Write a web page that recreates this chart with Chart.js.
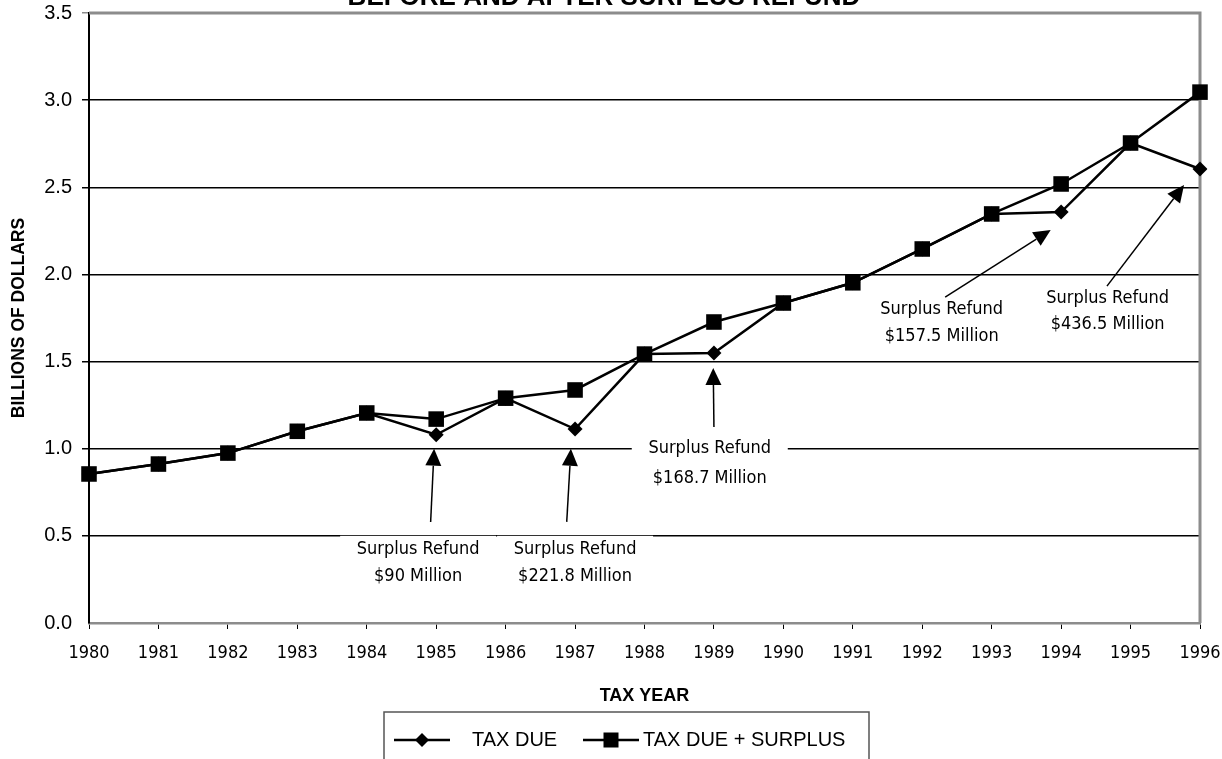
<!DOCTYPE html>
<html lang="en">
<head>
  <meta charset="UTF-8" />
  <title>Tax Due Before and After Surplus Refund</title>
  <script src="https://cdn.jsdelivr.net/npm/chart.js"></script>
  <style>
    html, body { margin: 0; padding: 0; background: #fff; }
    #wrap { position: relative; width: 1222px; height: 759px; overflow: hidden; }
  </style>
</head>
<body>
  <div id="wrap"><canvas id="taxChart" width="1222" height="759"></canvas></div>

  <script>
    // data (billions of dollars)
    const years = ['1980', '1981', '1982', '1983', '1984', '1985', '1986', '1987', '1988',
                   '1989', '1990', '1991', '1992', '1993', '1994', '1995', '1996'];
    const taxDue = [0.855, 0.912, 0.975, 1.10, 1.205, 1.08, 1.29, 1.113, 1.543,
                    1.549, 1.836, 1.952, 2.146, 2.347, 2.358, 2.754, 2.605];
    const taxDuePlusSurplus = [0.855, 0.912, 0.975, 1.10, 1.205, 1.17, 1.29, 1.337, 1.543,
                               1.727, 1.836, 1.952, 2.146, 2.347, 2.519, 2.754, 3.046];
    const yTicks = [0, 0.5, 1.0, 1.5, 2.0, 2.5, 3.0, 3.5];
    const refundAmounts = ['$90 Million', '$221.8 Million', '$168.7 Million', '$157.5 Million', '$436.5 Million'];

    // where each refund note sits, in axis units (x = year index, y = billions)
    const noteLayout = [
      { tx: 4.74, ty: [0.42, 0.265], tail: [4.92, 0.58], tip: [4.97, 1.0] },
      { tx: 7.0, ty: [0.42, 0.265], tail: [6.88, 0.58], tip: [6.94, 1.0] },
      { tx: 8.94, ty: [1.004, 0.832], tail: [9.0, 1.124], tip: [8.99, 1.463] },
      { tx: 12.28, ty: [1.80, 1.647], tail: [12.33, 1.87], tip: [13.85, 2.255] },
      { tx: 14.67, ty: [1.865, 1.715], tail: [14.66, 1.933], tip: [15.77, 2.513] }
    ];

    const narrow = '"Liberation Sans Narrow", "DejaVu Sans Condensed", Arial, sans-serif';
    const arial = '"Liberation Sans", Arial, sans-serif';

    function arrow(ctx, x1, y1, x2, y2) {
      const ang = Math.atan2(y2 - y1, x2 - x1);
      const headLen = 17, headW = 8;
      const bx = x2 - headLen * Math.cos(ang), by = y2 - headLen * Math.sin(ang);
      ctx.beginPath();
      ctx.moveTo(x1, y1);
      ctx.lineTo(bx, by);
      ctx.stroke();
      ctx.beginPath();
      ctx.moveTo(x2, y2);
      ctx.lineTo(bx + headW * Math.sin(ang), by - headW * Math.cos(ang));
      ctx.lineTo(bx - headW * Math.sin(ang), by + headW * Math.cos(ang));
      ctx.closePath();
      ctx.fill();
    }

    // notes, arrows and frame drawn under the lines
    const notesPlugin = {
      id: 'notes',
      beforeDatasetsDraw(chart) {
        const { ctx, scales: { x, y }, chartArea } = chart;
        ctx.save();
        ctx.font = '18px ' + narrow;
        ctx.textAlign = 'center';
        ctx.textBaseline = 'middle';
        noteLayout.forEach((n, i) => {
          const cx = x.getPixelForValue(n.tx);
          const y1 = y.getPixelForValue(n.ty[0]);
          const y2 = y.getPixelForValue(n.ty[1]);
          ctx.fillStyle = '#fff';
          ctx.fillRect(cx - 78, y1 - 14, 156, y2 - y1 + 28);
          ctx.fillStyle = '#000';
          ctx.fillText('Surplus Refund', cx, y1);
          ctx.fillText(refundAmounts[i], cx, y2);
          ctx.strokeStyle = '#000';
          ctx.lineWidth = 1.5;
          arrow(ctx, x.getPixelForValue(n.tail[0]), y.getPixelForValue(n.tail[1]),
                x.getPixelForValue(n.tip[0]), y.getPixelForValue(n.tip[1]));
        });
        // gray top and right frame
        ctx.strokeStyle = '#8c8c8c';
        ctx.lineWidth = 3;
        ctx.beginPath();
        ctx.moveTo(chartArea.left, chartArea.top);
        ctx.lineTo(chartArea.right, chartArea.top);
        ctx.lineTo(chartArea.right, chartArea.bottom);
        ctx.stroke();
        ctx.restore();
      },
      afterDraw(chart) {
        const ctx = chart.ctx;
        ctx.save();
        // title, mostly cut off at the top of the picture
        ctx.font = 'bold 26px ' + arial;
        ctx.fillStyle = '#000';
        ctx.textAlign = 'center';
        ctx.textBaseline = 'alphabetic';
        ctx.fillText('BEFORE AND AFTER SURPLUS REFUND', 604, 5);

        // boxed legend
        const bx = 384, by = 712, bw = 485, bh = 60;
        ctx.strokeStyle = '#555';
        ctx.lineWidth = 1.5;
        ctx.strokeRect(bx, by, bw, bh);
        ctx.font = '20px ' + arial;
        ctx.textAlign = 'left';
        ctx.textBaseline = 'middle';
        const ly = 740;
        const items = chart.data.datasets;
        const starts = [394, 583];
        const textX = [472, 643];
        items.forEach((ds, i) => {
          const x0 = starts[i];
          ctx.strokeStyle = '#000';
          ctx.lineWidth = 2.5;
          ctx.beginPath();
          ctx.moveTo(x0, ly);
          ctx.lineTo(x0 + 56, ly);
          ctx.stroke();
          ctx.fillStyle = '#000';
          const cx = x0 + 28;
          if (ds.pointStyle === 'rectRot') {
            ctx.beginPath();
            ctx.moveTo(cx, ly - 7);
            ctx.lineTo(cx + 7, ly);
            ctx.lineTo(cx, ly + 7);
            ctx.lineTo(cx - 7, ly);
            ctx.closePath();
            ctx.fill();
          } else {
            ctx.fillRect(cx - 7.5, ly - 7.5, 15, 15);
          }
          ctx.fillText(ds.label, textX[i], ly);
        });
        ctx.restore();
      }
    };

    new Chart(document.getElementById('taxChart'), {
      type: 'line',
      data: {
        labels: years,
        datasets: [{
          label: 'TAX DUE',
          data: taxDue,
          borderColor: '#000',
          backgroundColor: '#000',
          borderWidth: 2.5,
          pointStyle: 'rectRot',
          pointRadius: 7.5,
          pointBorderWidth: 0,
          tension: 0,
          order: 2
        }, {
          label: 'TAX DUE + SURPLUS',
          data: taxDuePlusSurplus,
          borderColor: '#000',
          backgroundColor: '#000',
          borderWidth: 2.5,
          pointStyle: 'rect',
          pointRadius: 11,
          pointBorderWidth: 0,
          tension: 0,
          order: 1
        }]
      },
      options: {
        responsive: false,
        animation: false,
        layout: { padding: { left: 0, top: 13, right: 22, bottom: 0 } },
        plugins: {
          legend: { display: false },
          title: { display: false },
          tooltip: { enabled: false }
        },
        scales: {
          x: {
            type: 'category',
            offset: false,
            afterFit(scale) {
              scale.height = 136;
              scale.paddingLeft = 0;
              scale.paddingRight = 0;
            },
            border: { display: true, color: '#8c8c8c', width: 2.5 },
            grid: { display: true, drawOnChartArea: false, drawTicks: true, tickLength: 6, color: '#000', lineWidth: 1 },
            ticks: {
              color: '#000',
              padding: 14,
              maxRotation: 0,
              autoSkip: false,
              font: { family: narrow, size: 18 }
            },
            title: {
              display: true,
              text: 'TAX YEAR',
              color: '#000',
              font: { family: arial, size: 18, weight: 'bold' },
              padding: { top: 0, bottom: 52 }
            }
          },
          y: {
            min: 0,
            max: 3.5,
            afterFit(scale) {
              scale.width = 89;
              scale.paddingTop = 0;
              scale.paddingBottom = 0;
            },
            afterBuildTicks(scale) { scale.ticks = yTicks.map(v => ({ value: v })); },
            border: { display: true, color: '#000', width: 2 },
            grid: {
              color: ctx => (ctx.tick && ctx.tick.value === 0 ? 'rgba(0,0,0,0)' : (ctx.tick && ctx.tick.value === 3.5 ? '#8c8c8c' : '#000')),
              lineWidth: 1.5,
              tickLength: 7,
              drawTicks: true
            },
            ticks: {
              color: '#000',
              padding: 10,
              font: { family: arial, size: 20 },
              callback: v => Number(v).toFixed(1)
            },
            title: {
              display: true,
              text: 'BILLIONS OF DOLLARS',
              color: '#000',
              font: { family: arial, size: 17.5, weight: 'bold' },
              padding: { top: 9, bottom: 0 }
            }
          }
        }
      },
      plugins: [notesPlugin]
    });
  </script>
</body>
</html>
